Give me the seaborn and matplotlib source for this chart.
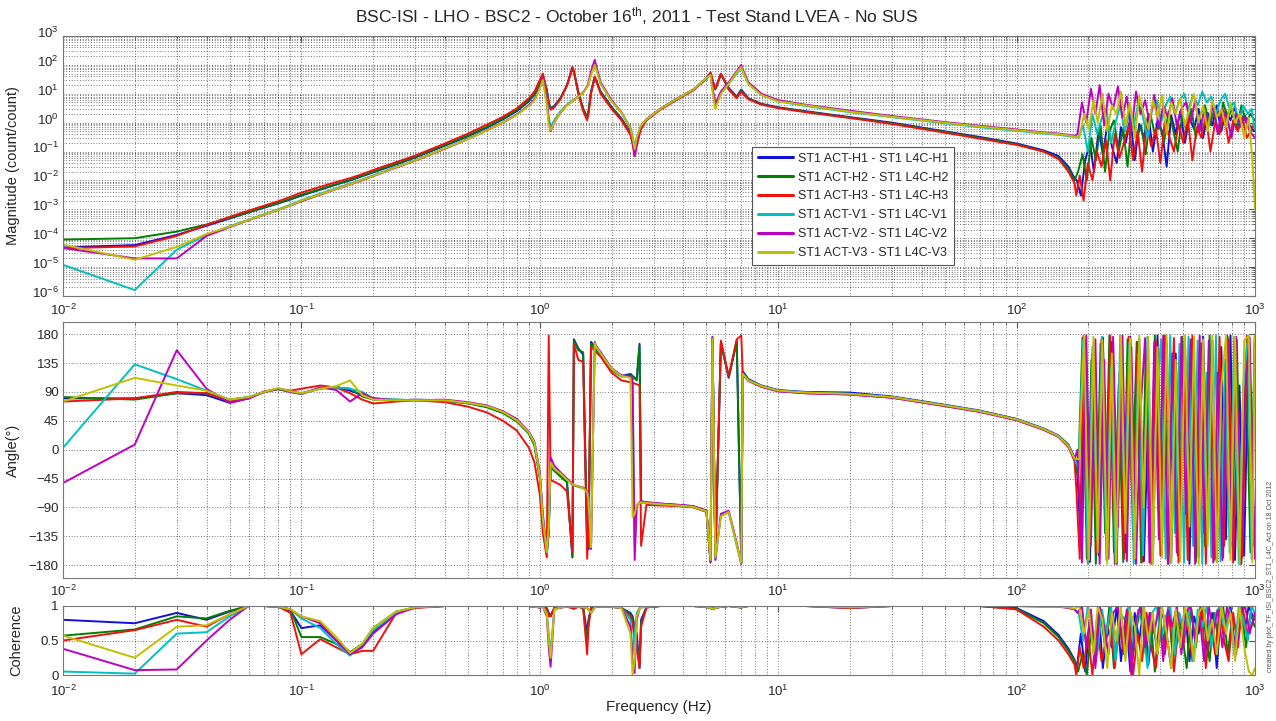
import numpy as np
import pandas as pd
import matplotlib
matplotlib.use("Agg")
import matplotlib.pyplot as plt
import matplotlib.transforms as mtransforms
import seaborn as sns
from matplotlib.ticker import LogLocator, NullFormatter, FixedLocator, FixedFormatter

# ---------------- data ----------------
SERIES = ["ST1 ACT-H1 - ST1 L4C-H1", "ST1 ACT-H2 - ST1 L4C-H2", "ST1 ACT-H3 - ST1 L4C-H3",
          "ST1 ACT-V1 - ST1 L4C-V1", "ST1 ACT-V2 - ST1 L4C-V2", "ST1 ACT-V3 - ST1 L4C-V3"]
COLORS = ["#1010e0", "#008000", "#f01010", "#00c0c0", "#c000c0", "#c0c000"]

FREQ = [0.01, 0.02, 0.03, 0.04, 0.05, 0.06, 0.07, 0.08, 0.09, 0.10,
        0.12, 0.14, 0.16, 0.18, 0.20, 0.25, 0.30, 0.40, 0.50, 0.60,
        0.70, 0.80, 0.90, 0.95, 1.00, 1.03, 1.07, 1.09, 1.11, 1.15,
        1.22, 1.30, 1.37, 1.39, 1.45, 1.52, 1.58, 1.60, 1.64, 1.70,
        1.72, 1.80, 2.00, 2.20, 2.40, 2.45, 2.50, 2.55, 2.62, 2.66,
        2.80, 3.20, 3.80, 4.40, 5.00, 5.20, 5.30, 5.45, 5.75, 6.20,
        6.70, 7.00, 7.10, 7.50, 8.50, 10.0, 13.0, 20.0, 30.0, 50.0,
        70.0, 100.0, 130.0, 150.0, 165.0, 175.0]

# high-frequency (noisy) sample frequencies, one list per series
NF_H1 = [179, 186, 194, 203, 211, 221, 230, 241, 251, 263, 274, 287, 300, 313, 327, 342, 357, 373, 390, 408,
         426, 445, 465, 486, 508, 531, 555, 580, 606, 633, 662, 691, 722, 755, 789, 824, 861, 900, 941, 993]
NF_H2 = [181, 189, 197, 206, 215, 225, 235, 245, 256, 268, 280, 292, 305, 319, 333, 348, 364, 380, 397, 415,
         434, 453, 474, 495, 517, 541, 565, 590, 617, 645, 673, 704, 735, 768, 803, 839, 877, 916, 957, 997]
NF_H3 = [178, 184, 191, 199, 208, 217, 227, 237, 247, 258, 270, 282, 295, 308, 322, 336, 351, 367, 384, 401,
         419, 438, 457, 478, 500, 522, 546, 570, 596, 622, 650, 680, 710, 742, 775, 810, 847, 885, 925, 988]
NF_V1 = [182, 190, 199, 208, 218, 228, 238, 249, 260, 272, 284, 297, 310, 324, 339, 354, 370, 387, 404, 422,
         441, 461, 482, 504, 526, 550, 575, 601, 628, 656, 686, 717, 749, 783, 818, 855, 893, 933, 968, 996]
NF_V2 = [180, 188, 196, 205, 214, 223, 233, 243, 254, 266, 278, 290, 303, 317, 331, 346, 361, 378, 395, 412,
         431, 450, 470, 491, 513, 537, 561, 586, 612, 640, 668, 698, 730, 763, 797, 833, 870, 909, 950, 999]
NF_V3 = [183, 192, 201, 210, 219, 229, 240, 251, 262, 274, 286, 299, 313, 327, 341, 357, 373, 390, 407, 426,
         445, 465, 486, 508, 531, 555, 580, 606, 633, 662, 692, 723, 756, 790, 825, 862, 901, 942, 975, 1000]

# magnitude (count/count)
MAG_H1 = [4.8e-5, 5.8e-5, 1.3e-4, 2.7e-4, 4.8e-4, 7.8e-4, 1.15e-3, 1.6e-3, 2.2e-3, 3.0e-3,
          4.8e-3, 7.2e-3, 1.0e-2, 1.4e-2, 1.9e-2, 3.6e-2, 6.2e-2, 0.16, 0.34, 0.68,
          1.3, 2.5, 5.5, 9.5, 22, 42, 14, 5, 3.2, 3.8,
          7, 20, 80, 60, 12, 3, 1.6, 2.5, 12, 38,
          30, 12, 3.5, 1.4, 0.45, 0.25, 0.1, 0.2, 0.5, 0.7,
          1.3, 3, 7, 14, 35, 52, 30, 15, 48, 16,
          8, 14, 12, 7, 4.5, 3.4, 2.5, 1.55, 1.0, 0.5,
          0.32, 0.19, 0.11, 0.07, 0.03, 0.012]
MAG_H1_HF = [0.01, 0.003, 0.05, 0.2, 0.02, 0.6, 0.08, 1.0, 0.15, 0.04, 0.7, 0.2, 1.5, 0.05, 0.9, 0.3, 2.0, 0.1, 1.2, 0.5,
             0.03, 1.8, 0.4, 2.5, 0.2, 1.5, 0.6, 3.0, 0.3, 2.2, 0.8, 4.0, 0.5, 2.5, 1.2, 3.5, 0.7, 2.0, 0.9, 0.5]
MAG_H2 = [9e-5, 1.0e-4, 1.7e-4, 3.0e-4, 5.0e-4, 8.0e-4, 1.2e-3, 1.65e-3, 2.3e-3, 3.2e-3,
          5.0e-3, 7.5e-3, 1.05e-2, 1.45e-2, 2.0e-2, 3.8e-2, 6.5e-2, 0.17, 0.36, 0.72,
          1.4, 2.7, 6, 10, 24, 40, 13, 5, 3, 3.6,
          6.8, 19, 75, 58, 11, 3, 1.5, 2.3, 11, 35,
          28, 11, 3.3, 1.3, 0.42, 0.22, 0.09, 0.18, 0.45, 0.65,
          1.25, 2.9, 6.8, 13.5, 34, 50, 28, 14, 46, 15,
          7.5, 13, 11, 6.8, 4.3, 3.3, 2.4, 1.5, 0.95, 0.48,
          0.3, 0.18, 0.1, 0.06, 0.025, 0.01]
MAG_H2_HF = [0.02, 0.08, 0.01, 0.3, 0.05, 0.8, 0.02, 0.5, 1.2, 0.1, 0.6, 0.03, 1.5, 0.3, 0.8, 0.08, 2.0, 0.4, 1.0, 0.2,
             2.5, 0.6, 0.1, 1.8, 0.5, 3.0, 0.3, 2.0, 4.0, 0.8, 2.5, 0.4, 5.0, 1.5, 3.0, 0.6, 4.0, 1.0, 2.0, 1.2]
MAG_H3 = [4.5e-5, 5.2e-5, 1.2e-4, 2.9e-4, 5.5e-4, 9.0e-4, 1.35e-3, 1.9e-3, 2.7e-3, 3.8e-3,
          6.0e-3, 8.8e-3, 1.2e-2, 1.65e-2, 2.3e-2, 4.3e-2, 7.2e-2, 0.19, 0.42, 0.85,
          1.6, 3.1, 7, 12, 30, 50, 12, 4.2, 2.8, 3.4,
          6.5, 19, 85, 62, 10, 2.5, 1.2, 2.0, 10, 40,
          30, 10, 3, 1.2, 0.38, 0.18, 0.07, 0.15, 0.4, 0.6,
          1.2, 2.8, 6.5, 13, 33, 55, 30, 15, 50, 14,
          7, 12, 10, 6.5, 4.2, 3.2, 2.3, 1.45, 0.9, 0.45,
          0.28, 0.17, 0.1, 0.055, 0.02, 0.008]
MAG_H3_HF = [0.003, 0.015, 0.002, 0.04, 0.01, 0.1, 0.03, 0.25, 0.01, 0.4, 0.06, 0.2, 0.8, 0.05, 0.5, 0.02, 1.0, 0.15, 0.6, 0.04,
             1.2, 0.3, 0.1, 0.9, 0.2, 1.5, 0.05, 0.7, 0.3, 1.8, 0.1, 1.0, 0.4, 2.0, 0.2, 1.2, 0.5, 1.5, 0.3, 0.8]
MAG_V1 = [1.2e-5, 1.6e-6, 4.0e-5, 1.3e-4, 2.6e-4, 4.4e-4, 6.8e-4, 1.0e-3, 1.45e-3, 2.1e-3,
          3.5e-3, 5.4e-3, 7.8e-3, 1.08e-2, 1.5e-2, 3.0e-2, 5.0e-2, 0.13, 0.28, 0.55,
          1.0, 1.9, 4, 6.5, 16, 32, 6, 1.5, 0.7, 1.2,
          2.5, 4.2, 5.8, 6.2, 8, 11, 17, 22, 50, 100,
          80, 22, 5.5, 2.2, 0.7, 0.35, 0.14, 0.3, 0.6, 0.8,
          1.3, 3, 7, 14, 32, 48, 15, 4, 10, 22,
          50, 80, 60, 22, 9, 5.5, 3.8, 2.3, 1.55, 0.95,
          0.7, 0.52, 0.42, 0.38, 0.34, 0.32]
MAG_V1_HF = [0.3, 0.8, 0.1, 2.0, 0.4, 1.5, 3.0, 0.2, 1.0, 4.0, 0.5, 2.0, 0.8, 5.0, 1.5, 0.3, 3.0, 6.0, 1.0, 4.0,
             8.0, 2.0, 6.0, 10.0, 3.0, 9.0, 4.0, 12.0, 5.0, 8.0, 2.0, 6.0, 10.0, 3.0, 5.0, 1.0, 4.0, 2.0, 3.0, 0.6]
MAG_V2 = [4.6e-5, 2.0e-5, 2.0e-5, 1.2e-4, 2.4e-4, 4.2e-4, 6.5e-4, 9.5e-4, 1.35e-3, 1.9e-3,
          3.2e-3, 5.0e-3, 7.2e-3, 1.0e-2, 1.4e-2, 2.8e-2, 4.8e-2, 0.125, 0.27, 0.55,
          1.0, 1.9, 4, 6.5, 17, 33, 5, 1.2, 0.5, 1.0,
          2.2, 4, 5.5, 6, 8, 11, 18, 25, 60, 150,
          100, 25, 6, 2.3, 0.6, 0.25, 0.07, 0.25, 0.55, 0.75,
          1.3, 3, 7, 14, 33, 50, 16, 4.5, 12, 25,
          60, 100, 70, 25, 10, 6, 4.2, 2.6, 1.7, 1.05,
          0.78, 0.58, 0.46, 0.42, 0.38, 0.35]
MAG_V2_HF = [0.4, 5.0, 1.0, 15.0, 2.0, 20.0, 0.8, 10.0, 3.0, 18.0, 1.5, 8.0, 0.5, 12.0, 2.0, 6.0, 1.0, 9.0, 0.6, 4.0,
             1.5, 7.0, 0.8, 3.0, 5.0, 1.0, 6.0, 0.5, 2.5, 1.0, 4.0, 0.4, 3.0, 1.5, 0.3, 2.0, 0.8, 1.5, 0.5, 0.3]
MAG_V3 = [6.0e-5, 1.8e-5, 5.0e-5, 1.4e-4, 2.5e-4, 4.3e-4, 6.6e-4, 9.6e-4, 1.38e-3, 2.0e-3,
          3.3e-3, 5.1e-3, 7.4e-3, 1.03e-2, 1.42e-2, 2.9e-2, 4.9e-2, 0.13, 0.27, 0.54,
          1.0, 1.85, 3.8, 6, 15, 30, 4, 0.9, 0.55, 1.0,
          2.3, 4, 5.5, 6, 7.8, 10.5, 17, 22, 45, 100,
          75, 22, 5.5, 2.2, 0.65, 0.3, 0.12, 0.3, 0.6, 0.8,
          1.3, 3, 7, 14, 35, 45, 12, 3, 10, 22,
          55, 85, 60, 22, 9, 5.5, 4, 2.4, 1.6, 1.0,
          0.74, 0.55, 0.44, 0.4, 0.36, 0.33]
MAG_V3_HF = [0.3, 2.0, 0.6, 6.0, 1.0, 10.0, 0.5, 4.0, 2.0, 12.0, 0.8, 5.0, 0.3, 8.0, 2.0, 0.6, 6.0, 1.5, 9.0, 0.4,
             5.0, 2.0, 7.0, 0.8, 3.0, 10.0, 1.0, 4.0, 0.5, 6.0, 1.5, 3.0, 0.7, 5.0, 1.0, 2.0, 0.3, 1.5, 0.05, 0.001]

# phase (degrees)
PH_H1 = [80, 80, 88, 85, 73, 80, 90, 95, 91, 88,
         95, 98, 92, 85, 80, 77, 78, 77, 73, 67,
         58, 45, 26, 8, -42, -110, -162, -130, -25, -32,
         -40, -50, -168, 172, 158, 148, -140, -155, 168, 160,
         156, 148, 125, 115, 118, 115, 112, 110, 165, -80,
         -82, -84, -86, -88, -95, -172, 172, -168, 168, 112,
         168, -176, 122, 110, 100, 93, 90, 89, 83, 70,
         61, 48, 33, 22, 8, -12]
PH_H1_HF = [-20, -150, 170, -175, 110, -165, 175, -120, 168, -178, 140, -160, 176, -90, 172, -174, 60, -170, 178, -130,
            165, -176, 150, -100, 174, -178, 120, -168, 176, -60, 170, -175, 160, -140, 178, -172, 100, -165, 176, -150]
PH_H2 = [82, 78, 88, 88, 78, 82, 90, 94, 90, 87,
         96, 97, 95, 83, 78, 78, 77, 76, 72, 66,
         57, 44, 25, 6, -45, -112, -163, -128, -28, -33,
         -42, -51, -166, 170, 155, 152, -145, -150, 165, 158,
         155, 147, 124, 114, 116, 114, 111, 108, 162, -82,
         -83, -85, -87, -89, -96, -174, 174, -170, 165, 113,
         170, -177, 120, 109, 99, 92, 89, 87, 82, 69,
         60, 47, 32, 21, 6, -14]
PH_H2_HF = [-45, 175, -170, 140, -178, 165, -130, 178, -160, 100, -175, 172, -80, 168, -176, 150, -170, 178, -110, 174,
            -178, 130, -165, 176, -40, 170, -175, 160, -150, 178, -172, 90, -168, 176, -120, 172, -178, 140, -160, 170]
PH_H3 = [75, 80, 90, 88, 76, 80, 91, 95, 92, 95,
         100, 97, 88, 78, 72, 75, 77, 74, 67, 58,
         45, 30, 3, -20, -70, -130, -168, 178, -47, -50,
         -55, -65, -160, 165, 140, 137, -170, -120, 160, 155,
         152, 145, 120, 108, 105, 104, 103, 102, 100, -150,
         -86, -87, -88, -90, -97, -175, 175, -165, 170, 115,
         172, 178, 118, 108, 98, 91, 88, 86, 81, 68,
         59, 46, 31, 20, 4, -18]
PH_H3_HF = [-60, -170, 178, -176, 150, -160, 172, -100, 178, -178, 120, -170, 176, -140, 168, -175, 80, -178, 170, -165,
            178, -60, 174, -176, 140, -172, 178, -130, 166, -178, 110, -170, 176, -150, 172, -176, 60, -168, 178, -140]
PH_V1 = [3, 133, 110, 92, 78, 82, 90, 95, 90, 87,
         96, 97, 95, 90, 80, 78, 77, 77, 73, 68,
         59, 46, 27, 10, -38, -105, -160, -120, -20, -30,
         -38, -47, -55, -56, -58, -60, -65, -75, -148, 165,
         160, 150, 126, 115, 113, 100, -150, -88, -83, -82,
         -83, -85, -87, -89, -96, -174, 174, -170, -102, -98,
         -150, -177, 118, 108, 99, 92, 89, 87, 82, 69,
         60, 47, 32, 21, 6, -14]
PH_V1_HF = [-30, 170, -178, 160, -140, 176, -172, 130, -176, 178, -100, 168, -178, 150, -165, 176, -178, 90, 172, -170,
            178, -130, 165, -176, 176, -150, 170, -178, 120, -168, 178, -174, 140, -160, 176, -178, 100, 172, -170, 176]
PH_V2 = [-52, 8, 155, 95, 73, 80, 90, 95, 90, 87,
         97, 93, 75, 88, 80, 77, 77, 78, 74, 69,
         60, 48, 28, 12, -35, -100, -158, -115, -12, -25,
         -35, -45, -53, -55, -57, -59, -64, -80, -155, 168,
         162, 152, 127, 116, 114, 110, -172, -87, -82, -81,
         -82, -84, -86, -88, -95, -176, 176, -172, -100, -95,
         -145, -178, 117, 107, 98, 91, 88, 86, 81, 68,
         59, 46, 31, 20, 5, -15]
PH_V2_HF = [0, -176, 178, -150, 172, -178, 140, -170, 176, -120, 178, -174, 160, -178, 60, 174, -176, 168, -140, 178,
            -178, 150, -160, 176, -100, 172, -178, 178, -130, 170, -176, 120, -172, 178, -150, 176, -178, 90, 175, -170]
PH_V3 = [75, 112, 100, 92, 78, 82, 90, 96, 91, 88,
         95, 99, 108, 85, 78, 77, 77, 77, 73, 68,
         59, 46, 27, 10, -40, -108, -160, -118, -20, -30,
         -37, -47, -54, -55, -57, -60, -66, -78, -152, 166,
         161, 150, 126, 115, 112, -105, -100, -86, -83, -82,
         -83, -85, -87, -89, -96, -172, 173, -168, -104, -97,
         -148, -176, 118, 108, 99, 92, 89, 87, 82, 69,
         60, 47, 32, 21, 6, -14]
PH_V3_HF = [-15, 178, -172, 176, -160, 170, -178, 150, -176, 178, -130, 174, -170, 178, -90, 176, -178, 160, -168, 178,
            -176, 140, -174, 178, -120, 176, -178, 172, -150, 178, -176, 100, 178, -172, 176, -178, 170, 178, -176, 178]

# coherence
COH_H1 = [0.80, 0.75, 0.90, 0.80, 0.92, 1.00, 1.00, 0.99, 0.93, 0.68,
          0.72, 0.50, 0.33, 0.42, 0.62, 0.90, 0.98, 1.00, 1.00, 1.00,
          1.00, 1.00, 1.00, 0.99, 0.98, 0.99, 0.97, 0.90, 0.85, 0.97,
          0.98, 0.99, 0.98, 0.97, 0.99, 0.98, 0.60, 0.80, 0.97, 0.99,
          0.99, 0.99, 0.99, 0.97, 0.90, 0.85, 0.70, 0.60, 0.10, 0.80,
          0.98, 1.00, 1.00, 1.00, 0.99, 0.97, 0.96, 0.97, 0.99, 1.00,
          0.99, 0.98, 0.99, 1.00, 1.00, 1.00, 1.00, 0.97, 1.00, 1.00,
          1.00, 0.97, 0.78, 0.58, 0.38, 0.22]
COH_H1_HF = [0.1, 0.6, 0.05, 0.8, 0.3, 0.95, 0.1, 0.7, 0.4, 1.0, 0.2, 0.85, 0.05, 0.9, 0.5, 1.0, 0.15, 0.8, 0.3, 0.95,
             0.6, 0.1, 0.9, 0.4, 1.0, 0.2, 0.85, 0.6, 1.0, 0.3, 0.9, 0.1, 0.95, 0.7, 1.0, 0.4, 0.9, 0.6, 1.0, 0.8]
COH_H2 = [0.57, 0.66, 0.85, 0.82, 0.93, 1.00, 1.00, 0.99, 0.95, 0.55,
          0.55, 0.45, 0.33, 0.45, 0.68, 0.92, 0.98, 1.00, 1.00, 1.00,
          1.00, 1.00, 1.00, 0.99, 0.98, 0.99, 0.96, 0.88, 0.86, 0.97,
          0.98, 0.99, 0.97, 0.96, 0.99, 0.98, 0.50, 0.75, 0.97, 0.99,
          0.99, 0.99, 0.99, 0.97, 0.88, 0.80, 0.60, 0.50, 0.15, 0.75,
          0.98, 1.00, 1.00, 1.00, 0.99, 0.97, 0.96, 0.97, 0.99, 1.00,
          0.99, 0.97, 0.99, 1.00, 1.00, 1.00, 1.00, 0.99, 1.00, 1.00,
          1.00, 0.96, 0.75, 0.55, 0.35, 0.20]
COH_H2_HF = [0.05, 0.3, 0.0, 0.7, 0.2, 0.9, 0.4, 1.0, 0.1, 0.8, 0.5, 0.95, 0.2, 0.7, 1.0, 0.3, 0.9, 0.05, 0.8, 0.5,
             1.0, 0.2, 0.9, 0.6, 0.1, 0.95, 0.4, 1.0, 0.7, 0.2, 0.9, 0.5, 1.0, 0.3, 0.85, 0.6, 1.0, 0.4, 0.9, 0.7]
COH_H3 = [0.50, 0.65, 0.80, 0.70, 0.88, 1.00, 1.00, 0.99, 0.90, 0.30,
          0.52, 0.40, 0.30, 0.35, 0.35, 0.90, 0.97, 1.00, 1.00, 1.00,
          1.00, 1.00, 1.00, 0.99, 0.98, 0.99, 0.96, 0.85, 0.85, 0.97,
          0.98, 0.99, 0.97, 0.96, 0.99, 0.96, 0.30, 0.70, 0.97, 0.99,
          0.99, 0.99, 0.99, 0.97, 0.85, 0.75, 0.50, 0.40, 0.10, 0.70,
          0.98, 1.00, 1.00, 1.00, 0.99, 0.97, 0.96, 0.97, 0.99, 1.00,
          0.99, 0.98, 0.99, 1.00, 1.00, 1.00, 1.00, 0.97, 1.00, 1.00,
          1.00, 0.95, 0.70, 0.50, 0.30, 0.15]
COH_H3_HF = [0.0, 0.4, 0.1, 0.6, 0.0, 0.8, 0.2, 0.5, 0.9, 0.1, 0.7, 0.3, 1.0, 0.0, 0.6, 0.2, 0.9, 0.4, 0.1, 0.8,
             0.3, 1.0, 0.05, 0.7, 0.4, 0.9, 0.2, 0.6, 1.0, 0.1, 0.8, 0.3, 0.95, 0.5, 0.2, 0.9, 0.4, 1.0, 0.6, 0.8]
COH_V1 = [0.05, 0.02, 0.60, 0.62, 0.85, 1.00, 1.00, 0.99, 0.95, 0.82,
          0.68, 0.45, 0.28, 0.45, 0.65, 0.90, 0.98, 1.00, 1.00, 1.00,
          1.00, 1.00, 1.00, 0.99, 0.98, 0.99, 0.90, 0.60, 0.30, 0.95,
          0.98, 0.99, 0.99, 0.99, 0.99, 0.98, 0.97, 0.95, 0.90, 0.98,
          0.99, 0.99, 0.99, 0.97, 0.80, 0.30, 0.60, 0.90, 0.97, 0.98,
          0.99, 1.00, 1.00, 1.00, 0.99, 0.97, 0.96, 0.97, 0.99, 1.00,
          0.99, 0.98, 0.99, 1.00, 1.00, 1.00, 1.00, 1.00, 1.00, 1.00,
          1.00, 1.00, 1.00, 0.99, 0.98, 0.95]
COH_V1_HF = [0.9, 0.5, 1.0, 0.7, 0.3, 0.95, 0.6, 1.0, 0.2, 0.9, 0.8, 1.0, 0.4, 0.95, 0.7, 0.1, 0.9, 1.0, 0.5, 0.85,
             1.0, 0.3, 0.9, 0.6, 1.0, 0.2, 0.95, 0.7, 1.0, 0.4, 0.9, 1.0, 0.6, 0.95, 0.3, 1.0, 0.8, 0.5, 1.0, 0.9]
COH_V2 = [0.38, 0.07, 0.08, 0.50, 0.80, 1.00, 1.00, 0.99, 0.95, 0.85,
          0.75, 0.50, 0.30, 0.40, 0.60, 0.88, 0.98, 1.00, 1.00, 1.00,
          1.00, 1.00, 1.00, 0.99, 0.98, 0.99, 0.85, 0.40, 0.12, 0.95,
          0.98, 0.99, 0.99, 0.99, 0.99, 0.98, 0.97, 0.95, 0.90, 0.98,
          0.99, 0.99, 0.99, 0.97, 0.70, 0.20, 0.03, 0.80, 0.96, 0.98,
          0.99, 1.00, 1.00, 1.00, 0.99, 0.97, 0.96, 0.97, 0.99, 1.00,
          0.99, 0.98, 0.99, 1.00, 1.00, 1.00, 1.00, 1.00, 1.00, 1.00,
          1.00, 1.00, 0.99, 0.99, 0.97, 0.95]
COH_V2_HF = [0.9, 1.0, 0.4, 0.95, 0.1, 1.0, 0.7, 0.3, 0.9, 1.0, 0.5, 0.95, 0.0, 0.8, 1.0, 0.4, 0.9, 0.6, 1.0, 0.2,
             0.95, 0.7, 1.0, 0.3, 0.9, 1.0, 0.5, 0.85, 0.2, 1.0, 0.6, 0.95, 0.4, 1.0, 0.7, 0.3, 0.9, 1.0, 0.6, 0.9]
COH_V3 = [0.57, 0.25, 0.70, 0.72, 0.88, 1.00, 1.00, 0.99, 0.95, 0.85,
          0.78, 0.55, 0.32, 0.45, 0.68, 0.92, 0.98, 1.00, 1.00, 1.00,
          1.00, 1.00, 1.00, 0.99, 0.98, 0.99, 0.88, 0.50, 0.25, 0.95,
          0.98, 0.99, 0.99, 0.99, 0.99, 0.98, 0.97, 0.95, 0.90, 0.98,
          0.99, 0.99, 0.99, 0.97, 0.60, 0.00, 0.20, 0.85, 0.96, 0.98,
          0.99, 1.00, 1.00, 1.00, 0.99, 0.97, 0.96, 0.97, 0.99, 1.00,
          0.99, 0.98, 0.99, 1.00, 1.00, 1.00, 1.00, 0.98, 1.00, 1.00,
          1.00, 1.00, 0.99, 0.99, 0.98, 0.96]
COH_V3_HF = [1.0, 0.6, 0.95, 0.3, 1.0, 0.8, 0.1, 0.9, 0.5, 1.0, 0.2, 0.95, 0.7, 0.0, 1.0, 0.5, 0.9, 0.3, 1.0, 0.6,
             0.1, 0.95, 0.4, 1.0, 0.7, 0.2, 0.9, 1.0, 0.5, 0.8, 0.3, 1.0, 0.6, 0.9, 0.2, 1.0, 0.4, 0.05, 0.0, 0.1]

TITLE = "BSC-ISI - LHO - BSC2 - October 16$^{\\mathregular{th}}$, 2011 - Test Stand LVEA - No SUS"
CREDIT = "created by plot_TF_ISI_BSC2_ST1_L4C_Act on 18 Oct 2012"

# ---------------- assemble long-form table ----------------
NF = [NF_H1, NF_H2, NF_H3, NF_V1, NF_V2, NF_V3]
MAGS = [(MAG_H1, MAG_H1_HF), (MAG_H2, MAG_H2_HF), (MAG_H3, MAG_H3_HF),
        (MAG_V1, MAG_V1_HF), (MAG_V2, MAG_V2_HF), (MAG_V3, MAG_V3_HF)]
PHS = [(PH_H1, PH_H1_HF), (PH_H2, PH_H2_HF), (PH_H3, PH_H3_HF),
       (PH_V1, PH_V1_HF), (PH_V2, PH_V2_HF), (PH_V3, PH_V3_HF)]
COHS = [(COH_H1, COH_H1_HF), (COH_H2, COH_H2_HF), (COH_H3, COH_H3_HF),
        (COH_V1, COH_V1_HF), (COH_V2, COH_V2_HF), (COH_V3, COH_V3_HF)]
frames = []
for name, nf, (m0, m1), (p0, p1), (c0, c1) in zip(SERIES, NF, MAGS, PHS, COHS):
    frames.append(pd.DataFrame({"series": name, "freq": list(FREQ) + list(nf),
                                "mag": list(m0) + list(m1), "phase": list(p0) + list(p1),
                                "coh": list(c0) + list(c1)}))
df = pd.concat(frames, ignore_index=True)

# ---------------- figure ----------------
sns.set_style("white")
plt.rcParams["font.family"] = ["Liberation Sans", "DejaVu Sans"]
plt.rcParams["mathtext.fontset"] = "custom"
plt.rcParams["mathtext.rm"] = "Liberation Sans"
plt.rcParams["mathtext.it"] = "Liberation Sans:italic"
plt.rcParams["mathtext.bf"] = "Liberation Sans:bold"

W, H = 1276, 721
fig = plt.figure(figsize=(W / 100, H / 100), dpi=100)
fig.patch.set_facecolor("white")

def px_axes(x0, y0, x1, y1):
    return fig.add_axes([x0 / W, 1 - y1 / H, (x1 - x0) / W, (y1 - y0) / H])

ax_mag = px_axes(63, 36, 1255, 296)
ax_ph = px_axes(63, 322, 1255, 578)
ax_coh = px_axes(63, 606, 1255, 675)

palette = dict(zip(SERIES, COLORS))
grid_kw = dict(linestyle=(0, (1.2, 2.4)), color="#444444", linewidth=0.55)

for ax, col in [(ax_mag, "mag"), (ax_ph, "phase"), (ax_coh, "coh")]:
    sns.lineplot(data=df, x="freq", y=col, hue="series", hue_order=SERIES, palette=palette,
                 units="series", estimator=None, sort=False, linewidth=1.4, ax=ax,
                 legend=(col == "mag"))
    ax.set_xscale("log")
    ax.set_xlim(1e-2, 1e3)
    ax.xaxis.set_major_locator(LogLocator(base=10, numticks=10))
    ax.xaxis.set_minor_locator(LogLocator(base=10, subs=np.arange(2, 10), numticks=100))
    ax.xaxis.set_minor_formatter(NullFormatter())
    ax.tick_params(which="both", direction="in", top=True, right=True, labelsize=9.5,
                   color="#555555", length=4, pad=3)
    ax.tick_params(which="minor", length=2.5)
    ax.set_xlabel("")
    ax.set_ylabel("")
    for s in ax.spines.values():
        s.set_color("#777777")
        s.set_linewidth(0.8)
    ax.grid(True, which="major", axis="x", **grid_kw)
    ax.grid(True, which="minor", axis="x", **grid_kw)
    ax.grid(True, which="major", axis="y", **grid_kw)
    ax.set_axisbelow(True)

# magnitude
ax_mag.set_yscale("log")
ax_mag.set_ylim(1e-6, 1e3)
ax_mag.yaxis.set_major_locator(LogLocator(base=10, numticks=20))
ax_mag.yaxis.set_minor_locator(LogLocator(base=10, subs=np.arange(2, 10), numticks=200))
ax_mag.yaxis.set_minor_formatter(NullFormatter())
ax_mag.grid(True, which="minor", axis="y", **grid_kw)
ax_mag.set_ylabel("Magnitude (count/count)", fontsize=10.5)
ax_mag.yaxis.set_label_coords(-0.036, 0.5)
ax_mag.tick_params(axis="x", pad=5)
# MATLAB-like: exponent labels sit slightly above their tick
shift_up = mtransforms.ScaledTranslation(0, 3 / 72, fig.dpi_scale_trans)
for lab in ax_mag.get_yticklabels():
    lab.set_transform(lab.get_transform() + shift_up)

# phase
ax_ph.set_ylim(-200, 199)
ax_ph.yaxis.set_major_locator(FixedLocator([-180, -135, -90, -45, 0, 45, 90, 135, 180]))
ax_ph.set_ylabel("Angle(°)", fontsize=10.5)
ax_ph.yaxis.set_label_coords(-0.036, 0.5)
ax_ph.tick_params(axis="x", pad=4)

# coherence
ax_coh.set_ylim(0, 1)
ax_coh.yaxis.set_major_locator(FixedLocator([0, 0.5, 1]))
ax_coh.yaxis.set_major_formatter(FixedFormatter(["0", "0.5", "1"]))
ax_coh.set_ylabel("Coherence", fontsize=10.5)
ax_coh.yaxis.set_label_coords(-0.033, 0.5)
ax_coh.set_xlabel("Frequency (Hz)", fontsize=11)
ax_coh.tick_params(axis="x", pad=6)
ax_coh.xaxis.labelpad = 1

# legend
handles, labels = ax_mag.get_legend_handles_labels()
leg = ax_mag.legend(handles, labels, loc="upper left", bbox_to_anchor=(0.578, 0.573),
                    borderaxespad=0, fontsize=9, frameon=True, fancybox=False,
                    framealpha=1, edgecolor="#555555", handlelength=2.8,
                    handletextpad=0.4, labelspacing=0.55, borderpad=0.45)
for h in leg.get_lines():
    h.set_linewidth(2.2)
leg.get_frame().set_linewidth(0.8)

fig.text(0.499, 0.978, TITLE, ha="center", va="center", fontsize=12.5)
fig.text(0.9955, 0.201, CREDIT, rotation=90, ha="center", va="center", fontsize=5, color="#555555")

fig.savefig("out.png", dpi=100, facecolor="white")
